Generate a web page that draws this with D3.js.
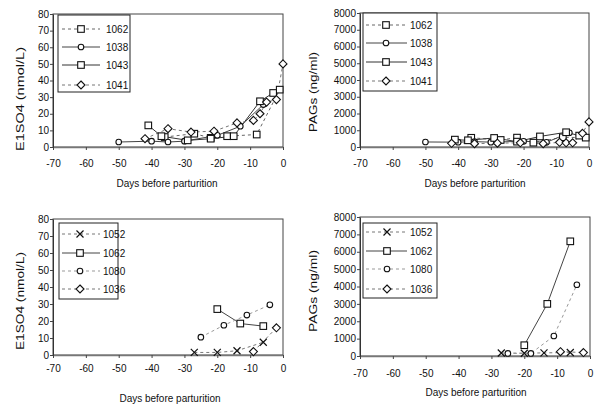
<!DOCTYPE html>
<html><head><meta charset="utf-8">
<script src="https://cdn.jsdelivr.net/npm/d3@7"></script>
<style>
body{margin:0;background:#fff;}
svg text{font-family:"Liberation Sans",Arial,sans-serif;fill:#111;}
</style></head>
<body><svg id="c" width="600" height="405"></svg>
<script>
// ---- data ----
const xTicks = [-70,-60,-50,-40,-30,-20,-10,0];
const e1Ticks = [0,10,20,30,40,50,60,70,80];
const pagTicks = [0,1000,2000,3000,4000,5000,6000,7000,8000];
const topCows = ["1062","1038","1043","1041"];
const bottomCows = ["1052","1062","1080","1036"];

const cow1062_days = [-36,-27,-22,-17,-8,-1];
const cow1062_e1so4 = [6,8,5.5,6.5,7.5,34.5];
const cow1062_pag = [550,420,560,260,580,560];

const cow1038_days = [-50,-40,-35,-30,-20,-13,-6];
const cow1038_e1so4 = [3,3.5,3,3.5,7,12.5,25.5];
const cow1038_pag = [300,290,320,290,340,280,850];

const cow1043_days = [-41,-37,-29,-22,-15,-7,-3];
const cow1043_e1so4 = [13,6.5,4,5,6.5,27.5,32.5];
const cow1043_pag = [440,400,540,320,630,880,680];

const cow1041_days = [-42,-35,-28,-21,-14,-9,-7,-5,-2,0];
const cow1041_e1so4 = [5,11,9,9.5,14.5,16,20,27,28.5,50];
const cow1041_pag = [220,200,230,250,200,280,250,250,820,1500];

const cow1052_days = [-27,-20,-14,-6];
const cow1052_e1so4 = [1.5,1.5,2.5,7.5];
const cow1052_pag = [170,160,180,200];

const cow1062b_days = [-20,-13,-6];
const cow1062b_e1so4 = [27,18.5,17];
const cow1062b_pag = [620,3000,6600];

const cow1080_days = [-25,-18,-11,-4];
const cow1080_e1so4 = [10.5,17.5,23.5,29.5];
const cow1080_pag = [150,150,1150,4100];

const cow1036_days = [-9,-2];
const cow1036_e1so4 = [2,16];
const cow1036_pag = [250,200];

// ---- styles ----
const styles = {
  "1062":{marker:"square",dash:"3,3",color:"#666"},
  "1038":{marker:"circle",dash:null,color:"#444"},
  "1043":{marker:"square",dash:null,color:"#333"},
  "1041":{marker:"diamond",dash:"3,3",color:"#777"},
  "1052":{marker:"x",dash:"3,3",color:"#777"},
  "1062b":{marker:"square",dash:null,color:"#444"},
  "1080":{marker:"circle",dash:"3,3",color:"#999"},
  "1036":{marker:"diamond",dash:"3,3",color:"#777"}
};

function zip(d,v){return d.map((x,i)=>({x:x,y:v[i]}));}

const panels = [
  {x0:53,x1:283,y0:147,y1:14,yTicks:e1Ticks,yMax:80,ylab:"E1SO4 (nmol/L)",ylabX:20,ylabY:99,ylabLen:104,
   xlabX:167,xlabY:187,tickY:167,
   legend:{x:58,y:15,w:72,h:77,rows:[29,47,65,85],l0:62,l1:100,m:81,t:106},
   names:topCows, keys:["1062","1038","1043","1041"],
   series:[zip(cow1062_days,cow1062_e1so4),zip(cow1038_days,cow1038_e1so4),zip(cow1043_days,cow1043_e1so4),zip(cow1041_days,cow1041_e1so4)]},
  {x0:360,x1:589,y0:147,y1:13,yTicks:pagTicks,yMax:8000,ylab:"PAGs (ng/ml)",ylabX:313,ylabY:92,ylabLen:80,
   xlabX:475,xlabY:187,tickY:167,
   legend:{x:363,y:13,w:74,h:78,rows:[25,43,62,81],l0:366,l1:407,m:386,t:410},
   names:topCows, keys:["1062","1038","1043","1041"],
   series:[zip(cow1062_days,cow1062_pag),zip(cow1038_days,cow1038_pag),zip(cow1043_days,cow1043_pag),zip(cow1041_days,cow1041_pag)]},
  {x0:53,x1:283,y0:355,y1:219,yTicks:e1Ticks,yMax:80,ylab:"E1SO4 (nmol/L)",ylabX:20,ylabY:301,ylabLen:98,
   xlabX:170,xlabY:402,tickY:372,
   legend:{x:59,y:223,w:59,h:76,rows:[234,253,271,289],l0:62,l1:100,m:80,t:103},
   names:bottomCows, keys:["1052","1062b","1080","1036"],
   series:[zip(cow1052_days,cow1052_e1so4),zip(cow1062b_days,cow1062b_e1so4),zip(cow1080_days,cow1080_e1so4),zip(cow1036_days,cow1036_e1so4)]},
  {x0:360,x1:590,y0:356,y1:217,yTicks:pagTicks,yMax:8000,ylab:"PAGs (ng/ml)",ylabX:313,ylabY:291,ylabLen:82,
   xlabX:476,xlabY:396,tickY:377,
   legend:{x:363,y:223,w:74,h:75,rows:[232,251,269,289],l0:366,l1:407,m:387,t:410},
   names:bottomCows, keys:["1052","1062b","1080","1036"],
   series:[zip(cow1052_days,cow1052_pag),zip(cow1062b_days,cow1062b_pag),zip(cow1080_days,cow1080_pag),zip(cow1036_days,cow1036_pag)]}
];

const svg = d3.select("#c");

function drawMarker(g,type,cx,cy){
  if(type==="square"){
    g.append("rect").attr("x",cx-3.3).attr("y",cy-3.3).attr("width",6.6).attr("height",6.6)
      .attr("fill","#fff").attr("stroke","#111").attr("stroke-width",1.1);
  }else if(type==="circle"){
    g.append("circle").attr("cx",cx).attr("cy",cy).attr("r",2.8)
      .attr("fill","#fff").attr("stroke","#111").attr("stroke-width",1.1);
  }else if(type==="diamond"){
    g.append("path").attr("d",`M${cx},${cy-4}L${cx+4},${cy}L${cx},${cy+4}L${cx-4},${cy}Z`)
      .attr("fill","#fff").attr("stroke","#111").attr("stroke-width",1.1);
  }else if(type==="x"){
    g.append("path").attr("d",`M${cx-3.5},${cy-3.5}L${cx+3.5},${cy+3.5}M${cx-3.5},${cy+3.5}L${cx+3.5},${cy-3.5}`)
      .attr("fill","none").attr("stroke","#111").attr("stroke-width",1.2);
  }
}

panels.forEach(p=>{
  const x = d3.scaleLinear().domain([-70,0]).range([p.x0,p.x1]);
  const y = d3.scaleLinear().domain([0,p.yMax]).range([p.y0,p.y1]);
  const g = svg.append("g");

  g.append("rect").attr("x",p.x0).attr("y",p.y1).attr("width",p.x1-p.x0).attr("height",p.y0-p.y1)
    .attr("fill","#fff").attr("stroke","#444").attr("stroke-width",1);

  const xa = g.append("g").attr("transform",`translate(0,${p.y0})`)
    .call(d3.axisBottom(x).tickValues(xTicks).tickSize(3).tickSizeOuter(0).tickFormat(d=>String(d)));
  xa.select(".domain").attr("stroke","#777").attr("stroke-width",1.6);
  xa.selectAll(".tick line").attr("stroke","#444");
  xa.selectAll(".tick text").attr("dy",null).attr("y",p.tickY-p.y0).attr("font-size","10px")
    .attr("font-family","Liberation Sans, Arial, sans-serif").attr("fill","#111");

  const ya = g.append("g").attr("transform",`translate(${p.x0},0)`)
    .call(d3.axisLeft(y).tickValues(p.yTicks).tickSize(3).tickSizeOuter(0).tickFormat(d=>String(d)));
  ya.select(".domain").attr("stroke","#333");
  ya.selectAll(".tick line").attr("stroke","#444");
  ya.selectAll(".tick text").attr("x",-4).attr("font-size","10px")
    .attr("font-family","Liberation Sans, Arial, sans-serif").attr("fill","#111");

  g.append("text").attr("x",p.xlabX).attr("y",p.xlabY).attr("text-anchor","middle")
    .attr("font-size","10px").text("Days before parturition");
  g.append("text").attr("transform",`translate(${p.ylabX},${p.ylabY}) rotate(-90)`)
    .attr("text-anchor","middle").attr("dy","0.35em").attr("font-size","11px")
    .attr("textLength",p.ylabLen).attr("lengthAdjust","spacingAndGlyphs").text(p.ylab);

  const line = d3.line().x(d=>x(d.x)).y(d=>y(d.y));
  p.series.forEach((s,i)=>{
    const st = styles[p.keys[i]];
    g.append("path").datum(s).attr("d",line).attr("fill","none")
      .attr("stroke",st.color).attr("stroke-width",1).attr("stroke-dasharray",st.dash);
  });
  p.series.forEach((s,i)=>{
    const st = styles[p.keys[i]];
    s.forEach(d=>drawMarker(g,st.marker,x(d.x),y(d.y)));
  });

  const L = p.legend;
  const lg = g.append("g");
  lg.append("rect").attr("x",L.x).attr("y",L.y).attr("width",L.w).attr("height",L.h)
    .attr("fill","#fff").attr("stroke","#222").attr("stroke-width",1);
  p.names.forEach((n,i)=>{
    const st = styles[p.keys[i]];
    const ry = L.rows[i];
    lg.append("line").attr("x1",L.l0).attr("x2",L.l1).attr("y1",ry).attr("y2",ry)
      .attr("stroke",st.color).attr("stroke-width",1).attr("stroke-dasharray",st.dash);
    drawMarker(lg,st.marker,L.m,ry);
    lg.append("text").attr("x",L.t).attr("y",ry).attr("dy","0.35em").attr("font-size","10px").text(n);
  });
});
</script></body></html>
